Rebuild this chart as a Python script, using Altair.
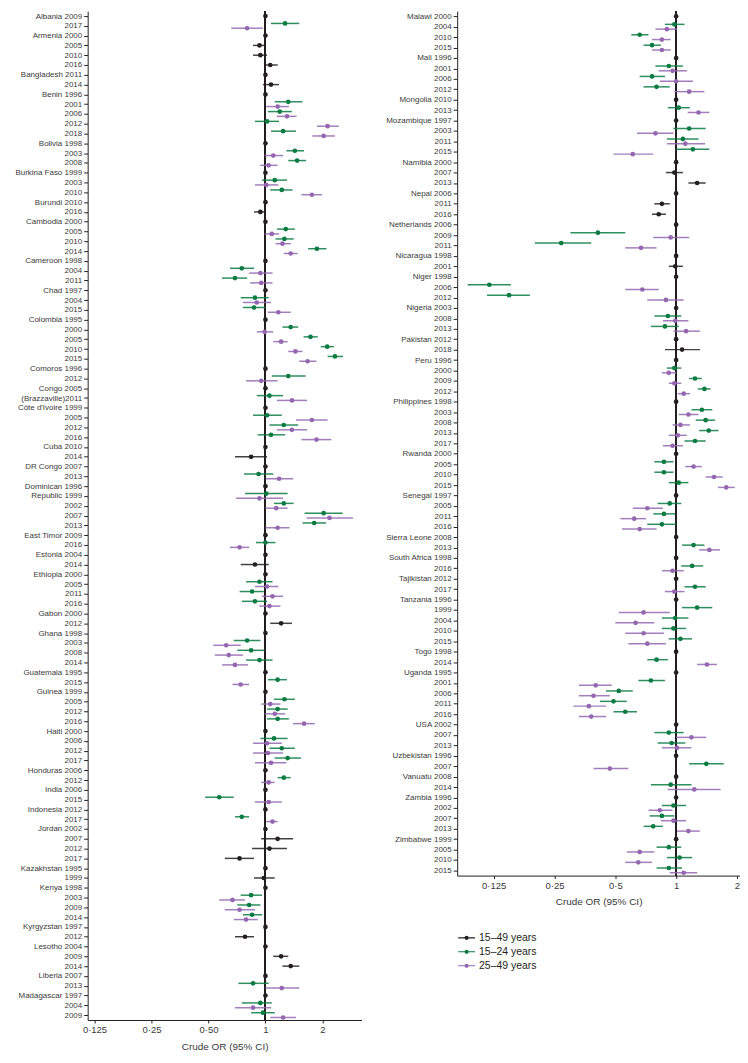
import altair as alt
import pandas as pd

GROUPS = ["15–49 years", "15–24 years", "25–49 years"]
GROUP_COLORS = ["#231f20", "#0b7a43", "#9467b0"]

# ---------------- left panel ----------------
L_labels = ["Albania 2009", "2017", "Armenia 2000", "2005", "2010", "2016", "Bangladesh 2011", "2014",
            "Benin 1996", "2001", "2006", "2012", "2018", "Bolivia 1998", "2003", "2008",
            "Burkina Faso 1999", "2003", "2010", "Burundi 2010", "2016", "Cambodia 2000", "2005", "2010",
            "2014", "Cameroon 1998", "2004", "2011", "Chad 1997", "2004", "2015", "Colombia 1995", "2000",
            "2005", "2010", "2015", "Comoros 1996", "2012", "Congo 2005", "(Brazzaville)2011",
            "Côte d'Ivoire 1999", "2005", "2012", "2016", "Cuba 2010", "2014", "DR Congo 2007", "2013",
            "Dominican 1996", "Republic 1999", "2002", "2007", "2013", "East Timor 2009", "2016",
            "Estonia 2004", "2014", "Ethiopia 2000", "2005", "2011", "2016", "Gabon 2000", "2012",
            "Ghana 1998", "2003", "2008", "2014", "Guatemala 1995", "2015", "Guinea 1999", "2005", "2012",
            "2016", "Haiti 2000", "2006", "2012", "2017", "Honduras 2006", "2012", "India 2006", "2015",
            "Indonesia 2012", "2017", "Jordan 2002", "2007", "2012", "2017", "Kazakhstan 1995", "1999",
            "Kenya 1998", "2003", "2009", "2014", "Kyrgyzstan 1997", "2012", "Lesotho 2004", "2009", "2014",
            "Liberia 2007", "2013", "Madagascar 1997", "2004", "2009"]

# reference surveys (OR = 1)
L_ref = [0, 2, 6, 8, 13, 16, 19, 21, 25, 28, 31, 36, 38, 40, 44, 46, 48, 53, 55, 57, 61, 63, 67, 69,
         73, 77, 79, 81, 83, 87, 89, 93, 95, 98, 100]

# row index: (OR, lower, upper)
L_1549 = {3: (0.93, 0.86, 1.00), 4: (0.94, 0.86, 1.02), 5: (1.06, 0.99, 1.16), 7: (1.07, 0.97, 1.18),
          20: (0.94, 0.87, 1.00), 45: (0.84, 0.69, 1.02), 56: (0.88, 0.74, 1.04), 62: (1.21, 1.06, 1.38),
          84: (1.16, 0.95, 1.40), 85: (1.05, 0.85, 1.30), 86: (0.73, 0.61, 0.87), 88: (0.98, 0.87, 1.12),
          94: (0.78, 0.69, 0.87), 96: (1.21, 1.10, 1.32), 97: (1.36, 1.23, 1.51)}

L_1524 = {1: (1.27, 1.07, 1.51), 9: (1.32, 1.12, 1.57), 10: (1.19, 1.03, 1.38), 11: (1.02, 0.88, 1.18),
          12: (1.24, 1.07, 1.45), 14: (1.43, 1.29, 1.60), 15: (1.47, 1.32, 1.64), 17: (1.12, 0.96, 1.30),
          18: (1.22, 1.06, 1.39), 22: (1.28, 1.15, 1.43), 23: (1.26, 1.13, 1.41), 24: (1.87, 1.68, 2.10),
          26: (0.75, 0.65, 0.87), 27: (0.69, 0.59, 0.80), 29: (0.88, 0.74, 1.04), 30: (0.87, 0.76, 1.00),
          32: (1.36, 1.23, 1.49), 33: (1.73, 1.59, 1.89), 34: (2.12, 1.96, 2.30), 35: (2.33, 2.13, 2.57),
          37: (1.32, 1.08, 1.63), 39: (1.05, 0.90, 1.24), 41: (1.02, 0.86, 1.22), 42: (1.25, 1.05, 1.49),
          43: (1.07, 0.91, 1.27), 47: (0.92, 0.77, 1.10), 49: (1.01, 0.78, 1.31), 50: (1.25, 1.11, 1.41),
          51: (2.03, 1.61, 2.56), 52: (1.81, 1.57, 2.09), 54: (1.00, 0.89, 1.13), 58: (0.93, 0.79, 1.09),
          59: (0.85, 0.73, 0.98), 60: (0.88, 0.75, 1.02), 64: (0.80, 0.68, 0.94), 65: (0.84, 0.71, 0.99),
          66: (0.93, 0.79, 1.09), 68: (1.16, 1.03, 1.30), 70: (1.26, 1.11, 1.43), 71: (1.16, 1.02, 1.31),
          72: (1.16, 1.02, 1.33), 74: (1.11, 0.94, 1.31), 75: (1.22, 1.05, 1.43), 76: (1.31, 1.12, 1.54),
          78: (1.25, 1.16, 1.36), 80: (0.57, 0.48, 0.68), 82: (0.75, 0.69, 0.82), 90: (0.84, 0.74, 0.96),
          91: (0.82, 0.71, 0.94), 92: (0.85, 0.76, 0.96), 99: (0.86, 0.72, 1.04), 101: (0.94, 0.75, 1.08),
          102: (0.97, 0.84, 1.12)}

L_2549 = {1: (0.80, 0.66, 0.97), 9: (1.16, 1.01, 1.33), 10: (1.30, 1.15, 1.46), 11: (2.13, 1.87, 2.44),
          12: (2.03, 1.77, 2.33), 14: (1.10, 0.99, 1.24), 15: (1.04, 0.94, 1.16), 17: (1.01, 0.88, 1.17),
          18: (1.76, 1.55, 1.99), 22: (1.08, 0.99, 1.18), 23: (1.23, 1.13, 1.36), 24: (1.36, 1.25, 1.48),
          26: (0.94, 0.82, 1.09), 27: (0.95, 0.83, 1.09), 29: (0.90, 0.76, 1.07), 30: (1.17, 1.03, 1.36),
          32: (0.99, 0.90, 1.10), 33: (1.21, 1.10, 1.31), 34: (1.44, 1.32, 1.57), 35: (1.67, 1.51, 1.86),
          37: (0.95, 0.79, 1.16), 39: (1.38, 1.15, 1.66), 41: (1.76, 1.45, 2.13), 42: (1.38, 1.15, 1.66),
          43: (1.86, 1.55, 2.23), 47: (1.18, 1.00, 1.40), 49: (0.93, 0.70, 1.24), 50: (1.14, 1.00, 1.31),
          51: (2.18, 1.65, 2.90), 52: (1.16, 1.00, 1.34), 54: (0.73, 0.65, 0.82), 58: (1.02, 0.88, 1.17),
          59: (1.09, 0.96, 1.24), 60: (1.05, 0.93, 1.20), 64: (0.62, 0.53, 0.74), 65: (0.64, 0.54, 0.76),
          66: (0.69, 0.59, 0.81), 68: (0.74, 0.67, 0.82), 70: (1.06, 0.95, 1.20), 71: (1.12, 0.99, 1.27),
          72: (1.60, 1.40, 1.82), 74: (1.02, 0.86, 1.22), 75: (1.03, 0.86, 1.24), 76: (1.07, 0.88, 1.29),
          78: (1.04, 0.95, 1.12), 80: (1.04, 0.88, 1.22), 82: (1.09, 1.01, 1.16), 90: (0.67, 0.57, 0.78),
          91: (0.73, 0.61, 0.88), 92: (0.79, 0.68, 0.91), 99: (1.22, 1.00, 1.51), 101: (0.86, 0.69, 1.07),
          102: (1.24, 1.06, 1.45)}

# ---------------- right panel ----------------
R_labels = ["Malawi 2000", "2004", "2010", "2015", "Mali 1996", "2001", "2006", "2012", "Mongolia 2010",
            "2013", "Mozambique 1997", "2003", "2011", "2015", "Namibia 2000", "2007", "2013",
            "Nepal 2006", "2011", "2016", "Netherlands 2006", "2009", "2011", "Nicaragua 1998", "2001",
            "Niger 1998", "2006", "2012", "Nigeria 2003", "2008", "2013", "Pakistan 2012", "2018",
            "Peru 1996", "2000", "2009", "2012", "Philippines 1998", "2003", "2008", "2013", "2017",
            "Rwanda 2000", "2005", "2010", "2015", "Senegal 1997", "2005", "2011", "2016",
            "Sierra Leone 2008", "2013", "South Africa 1998", "2016", "Tajikistan 2012", "2017",
            "Tanzania 1996", "1999", "2004", "2010", "2015", "Togo 1998", "2014", "Uganda 1995", "2001",
            "2006", "2011", "2016", "USA 2002", "2007", "2013", "Uzbekistan 1996", "2007", "Vanuatu 2008",
            "2014", "Zambia 1996", "2002", "2007", "2013", "Zimbabwe 1999", "2005", "2010", "2015"]

R_ref = [0, 4, 8, 10, 14, 17, 20, 23, 25, 28, 31, 33, 37, 42, 46, 50, 52, 54, 56, 61, 63, 68, 71, 73,
         75, 79]

R_1549 = {15: (0.98, 0.89, 1.08), 16: (1.27, 1.15, 1.40), 18: (0.85, 0.78, 0.93), 19: (0.82, 0.76, 0.89),
          24: (0.99, 0.92, 1.08), 32: (1.07, 0.88, 1.31)}

R_1524 = {1: (0.98, 0.88, 1.10), 2: (0.66, 0.60, 0.73), 3: (0.76, 0.69, 0.84), 5: (0.92, 0.79, 1.08),
          6: (0.76, 0.66, 0.88), 7: (0.80, 0.69, 0.93), 9: (1.03, 0.91, 1.17), 11: (1.16, 0.97, 1.40),
          12: (1.08, 0.90, 1.29), 13: (1.21, 1.00, 1.46), 21: (0.41, 0.30, 0.56), 22: (0.27, 0.20, 0.38),
          26: (0.119, 0.093, 0.152), 27: (0.149, 0.116, 0.189), 29: (0.91, 0.78, 1.06),
          30: (0.88, 0.75, 1.03), 34: (0.98, 0.90, 1.06), 35: (1.24, 1.16, 1.34), 36: (1.38, 1.28, 1.48),
          38: (1.34, 1.19, 1.51), 39: (1.40, 1.25, 1.56), 40: (1.45, 1.30, 1.62), 41: (1.24, 1.10, 1.40),
          43: (0.87, 0.78, 0.97), 44: (0.87, 0.78, 0.97), 45: (1.03, 0.92, 1.15), 47: (0.93, 0.81, 1.06),
          48: (0.87, 0.77, 0.99), 49: (0.85, 0.72, 1.00), 51: (1.22, 1.07, 1.38), 53: (1.20, 1.06, 1.36),
          55: (1.24, 1.10, 1.40), 57: (1.27, 1.07, 1.51), 58: (0.99, 0.85, 1.15), 59: (0.97, 0.85, 1.12),
          60: (1.05, 0.92, 1.20), 62: (0.80, 0.72, 0.91), 64: (0.75, 0.65, 0.88), 65: (0.52, 0.45, 0.61),
          66: (0.49, 0.42, 0.57), 67: (0.56, 0.49, 0.64), 69: (0.92, 0.78, 1.09), 70: (0.95, 0.81, 1.11),
          72: (1.41, 1.16, 1.72), 74: (0.94, 0.75, 1.19), 76: (0.97, 0.85, 1.12), 77: (0.85, 0.74, 0.98),
          78: (0.77, 0.69, 0.86), 80: (0.92, 0.80, 1.06), 81: (1.04, 0.90, 1.20), 82: (0.92, 0.80, 1.07)}

R_2549 = {1: (0.90, 0.79, 1.01), 2: (0.85, 0.76, 0.94), 3: (0.85, 0.76, 0.94), 5: (0.96, 0.82, 1.13),
          6: (1.00, 0.83, 1.21), 7: (1.16, 0.98, 1.38), 9: (1.29, 1.14, 1.46), 11: (0.79, 0.64, 0.97),
          12: (1.11, 0.90, 1.39), 13: (0.61, 0.49, 0.77), 21: (0.94, 0.77, 1.16), 22: (0.67, 0.56, 0.80),
          26: (0.68, 0.56, 0.82), 27: (0.89, 0.72, 1.09), 29: (0.99, 0.86, 1.15), 30: (1.12, 0.97, 1.31),
          34: (0.92, 0.85, 1.00), 35: (0.98, 0.92, 1.06), 36: (1.09, 1.02, 1.17), 38: (1.15, 1.03, 1.29),
          39: (1.05, 0.96, 1.17), 40: (1.02, 0.92, 1.13), 41: (0.96, 0.86, 1.08), 43: (1.22, 1.11, 1.34),
          44: (1.54, 1.40, 1.70), 45: (1.77, 1.61, 1.95), 47: (0.72, 0.61, 0.86), 48: (0.62, 0.53, 0.71),
          49: (0.66, 0.54, 0.80), 51: (1.46, 1.30, 1.65), 53: (0.96, 0.85, 1.09), 55: (0.98, 0.88, 1.10),
          57: (0.69, 0.52, 0.93), 58: (0.63, 0.50, 0.78), 59: (0.69, 0.56, 0.87), 60: (0.72, 0.58, 0.89),
          62: (1.42, 1.27, 1.59), 64: (0.40, 0.33, 0.48), 65: (0.39, 0.33, 0.47), 66: (0.37, 0.31, 0.45),
          67: (0.38, 0.33, 0.45), 69: (1.19, 1.00, 1.41), 70: (1.01, 0.85, 1.19), 72: (0.47, 0.39, 0.58),
          74: (1.23, 0.91, 1.66), 76: (0.83, 0.73, 0.96), 77: (0.97, 0.84, 1.12), 78: (1.15, 1.01, 1.31),
          80: (0.66, 0.57, 0.78), 81: (0.65, 0.56, 0.76), 82: (1.09, 0.93, 1.27)}

X_TICKS = [0.125, 0.25, 0.5, 1, 2]

assert len(L_labels) == 103 and len(R_labels) == 83

FONT = "Liberation Sans"
INK = "#231f20"
TXT = "#3a3a3a"

LEGEND_PATH = ("M-1.3,-0.09L1.3,-0.09L1.3,0.09L-1.3,0.09Z"
               "M-0.32,0A0.32,0.32,0,1,1,0.32,0A0.32,0.32,0,1,1,-0.32,0Z")

color_scale = alt.Scale(domain=GROUPS, range=GROUP_COLORS)
legend = alt.Legend(title=None, orient="none", legendX=374, legendY=924, symbolType=LEGEND_PATH,
                    symbolSize=169, symbolStrokeWidth=0, labelFont=FONT, labelFontSize=10.5,
                    labelColor=INK, labelOffset=6, rowPadding=2, padding=0, symbolOpacity=1)

OFFSETS = {GROUPS[0]: 0, GROUPS[1]: -2.4, GROUPS[2]: 2.4}


def panel(labels, ref, d1549, d1524, d2549, xdom, w, h, extent, half_label):
    keys = [f"{i:03d}{lab}" for i, lab in enumerate(labels)]
    recs = []
    for i in ref:
        recs.append({"key": keys[i], "group": GROUPS[0], "est": 1.0, "lo": 1.0, "hi": 1.0})
    for grp, dd in zip(GROUPS, [d1549, d1524, d2549]):
        for i, (c, lo, hi) in dd.items():
            recs.append({"key": keys[i], "group": grp, "est": c, "lo": lo, "hi": hi})
    df = pd.DataFrame(recs)

    expr = ("datum.value == 0.125 ? '0·125' : datum.value == 0.25 ? '0·25' : "
            f"datum.value == 0.5 ? '{half_label}' : datum.value == 1 ? '1' : '2'")
    xscale = alt.Scale(type="log", base=2, domain=xdom, nice=False)
    xaxis = alt.Axis(values=X_TICKS, labelExpr=expr, title="Crude OR (95% CI)", grid=False,
                     tickSize=3, labelFont=FONT, labelFontSize=9.5, labelColor=TXT,
                     titleFont=FONT, titleFontSize=10, titleFontWeight="normal", titleColor=TXT,
                     domainColor=INK, tickColor=INK, labelPadding=2, titlePadding=7, labelFlush=False)
    yaxis = alt.Axis(title=None, labelExpr="substring(datum.label, 3)", tickSize=4, labelFont=FONT,
                     labelFontSize=8, labelColor=TXT, labelPadding=2, minExtent=extent,
                     maxExtent=extent, labelOverlap=False, domainColor=INK, tickColor=INK, grid=False)
    yenc = alt.Y("key:N", scale=alt.Scale(type="point", domain=keys, padding=0.5), axis=yaxis)

    base = alt.Chart(df)
    layers = [
        alt.Chart(df).mark_rule(color=INK, strokeWidth=1.1).encode(
            x=alt.X(datum=1, type="quantitative", scale=xscale, axis=xaxis))
    ]
    for grp, col in zip(GROUPS, GROUP_COLORS):
        sub = base.transform_filter(alt.datum.group == grp)
        layers.append(sub.mark_rule(strokeWidth=1.5, opacity=0.85, color=col,
                                    yOffset=OFFSETS[grp]).encode(
            x=alt.X("lo:Q", scale=xscale, axis=xaxis), x2="hi:Q", y=yenc))
    for grp in GROUPS:
        sub = base.transform_filter(alt.datum.group == grp)
        layers.append(sub.mark_circle(size=22, opacity=1, yOffset=OFFSETS[grp]).encode(
            x=alt.X("est:Q", scale=xscale, axis=xaxis), y=yenc,
            color=alt.Color("group:N", scale=color_scale, legend=legend)))
    return alt.layer(*layers).properties(width=w, height=h)


left = panel(L_labels, L_ref, L_1549, L_1524, L_2549, [0.115, 3.22], 275, 1013, 80, "0·50")
right = panel(R_labels, R_ref, R_1549, R_1524, R_2549, [0.0825, 2.07], 284, 868, 80, "0·5")

chart = (alt.hconcat(left, right, spacing=16)
         .properties(padding=0, background="white")
         .configure_view(stroke=None))

chart.save("out.html", embed_options={"renderer": "svg", "actions": False})
